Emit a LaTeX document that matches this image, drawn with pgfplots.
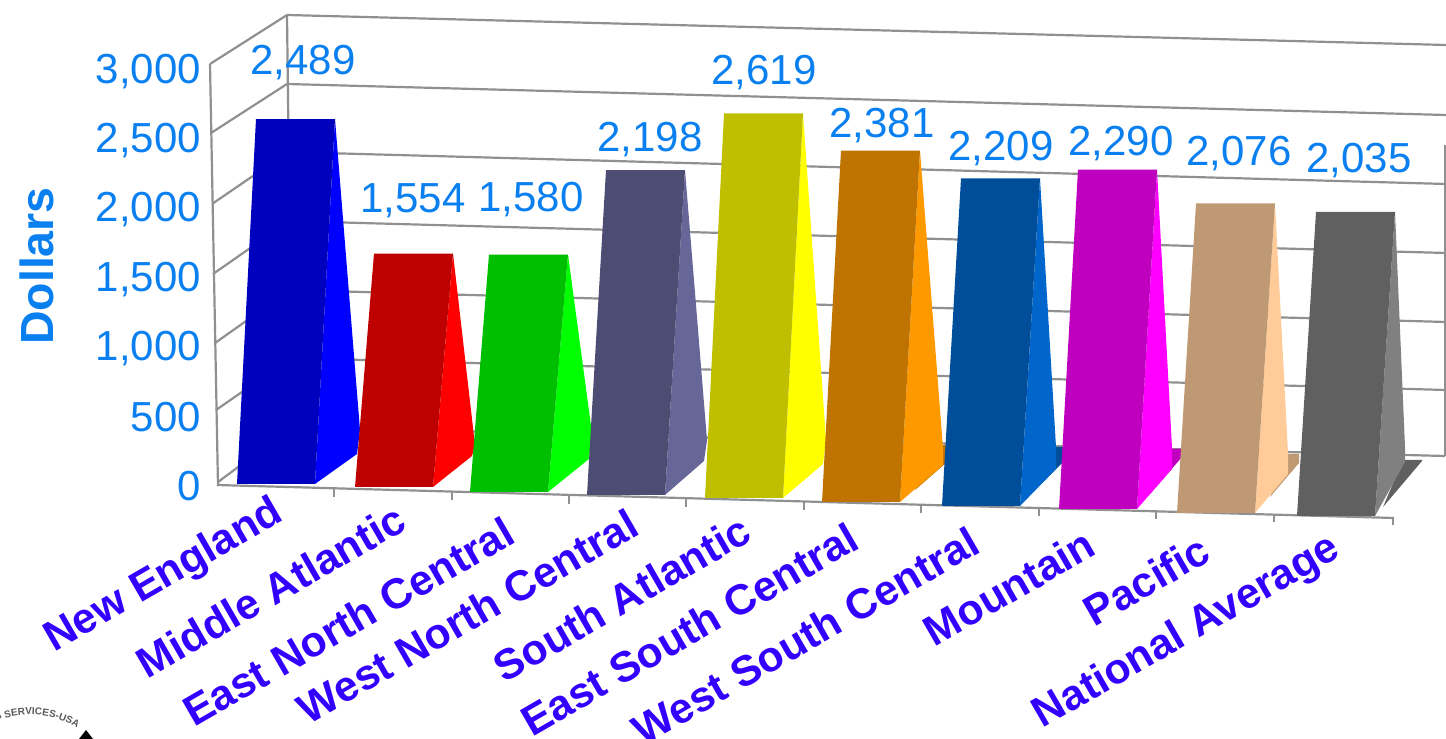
\documentclass[border=0pt]{standalone}
\usepackage{pgfplots}
\pgfplotsset{compat=1.18}
\usepackage{fontspec}
\setmainfont{Liberation Sans}
\usetikzlibrary{decorations.text}

% Front and side shades of the ten columns
\definecolor{barf1}{HTML}{0000BF}\definecolor{bars1}{HTML}{0000FF}
\definecolor{barf2}{HTML}{BF0000}\definecolor{bars2}{HTML}{FF0000}
\definecolor{barf3}{HTML}{00BF00}\definecolor{bars3}{HTML}{00FF00}
\definecolor{barf4}{HTML}{4D4D73}\definecolor{bars4}{HTML}{666699}
\definecolor{barf5}{HTML}{BFBF00}\definecolor{bars5}{HTML}{FFFF00}
\definecolor{barf6}{HTML}{BF7300}\definecolor{bars6}{HTML}{FF9900}
\definecolor{barf7}{HTML}{004D99}\definecolor{bars7}{HTML}{0066CC}
\definecolor{barf8}{HTML}{BF00BF}\definecolor{bars8}{HTML}{FF00FF}
\definecolor{barf9}{HTML}{BF9973}\definecolor{bars9}{HTML}{FFCC99}
\definecolor{barf10}{HTML}{606060}\definecolor{bars10}{HTML}{808080}
\definecolor{wallgray}{HTML}{909090}
\definecolor{valblue}{HTML}{0A80F0}
\definecolor{catblue}{HTML}{3300FF}

% The plot area is laid out in points measured from the top; the value axis
% has 0 at 485 and loses 0.1383 pt for each dollar.
\newcommand{\toY}[2]{\pgfmathsetmacro#1{(485-(#2))/0.1383}}

% One wall or floor segment
\newcommand{\seg}[4]{%
  \toY\ya{#2}\toY\yb{#4}%
  \edef\temp{\noexpand\addplot[wallgray,line width=2.2pt,no marks] coordinates {(#1,\ya)(#3,\yb)};}\temp}

% Column: index, left foot x, foot y, value, side low point x,y, side outer point x,y
\newcommand{\column}[8]{%
  \pgfmathsetmacro\toppx{#3-(14+0.141*#4+0.35*(#1-1))}%
  \pgfmathsetmacro\xr{#2+78}\pgfmathsetmacro\xtl{#2+19}\pgfmathsetmacro\xtr{#2+98}%
  \toY\yfoot{#3}\toY\ytop{\toppx}\toY\ylow{#6}\toY\yout{#8}%
  \edef\temp{\noexpand\addplot[fill=bars#1,draw=none,no marks] coordinates {(\xr,\yfoot)(#5,\ylow)(#7,\yout)(\xtr,\ytop)} -- cycle;
    \noexpand\addplot[fill=barf#1,draw=none,no marks] coordinates {(#2,\yfoot)(\xr,\yfoot)(\xtr,\ytop)(\xtl,\ytop)} -- cycle;}\temp}

% Dark piece of a column's end face, seen on the floor behind it
\newcommand{\floorpatch}[8]{%
  \toY\ya{#3}\toY\yb{#5}\toY\yc{#7}%
  \edef\temp{\noexpand\addplot[fill=barf#1,draw=none,no marks] coordinates {(#2,\ya)(#4,\ya)(#4,\yb)(#6,\yc)(#8,\yc)} -- cycle;}\temp}

% Value printed above a column
\newcommand{\val}[3]{%
  \toY\yy{#2}%
  \edef\temp{\noexpand\node[text=valblue,font=\noexpand\fontsize{42}{46}\noexpand\selectfont,anchor=center,inner sep=0pt,yshift=-3pt] at (axis cs:#1,\yy) {#3};}\temp}

% Slanted category name ending at the given point
\newcommand{\cat}[3]{%
  \toY\yy{#2}%
  \edef\temp{\noexpand\node[text=catblue,font=\noexpand\fontsize{42.5}{46}\noexpand\selectfont\noexpand\bfseries,rotate=30,anchor=east,inner sep=0pt] at (axis cs:#1,\yy) {#3};}\temp}

\begin{document}
\begin{tikzpicture}[x=1pt,y=1pt]
\path[use as bounding box] (0,0) rectangle (1446,739);
\begin{axis}[
  at={(0pt,0pt)},anchor=south west,
  scale only axis,width=1446pt,height=739pt,
  xmin=0,xmax=1446,
  ymin=-1836.6,ymax=3506.9,
  axis x line=none,
  axis y line*=left,
  axis line style={draw=none},
  tick style={draw=none},
  major tick length=0pt,
  ytick={0,500,1000,1500,2000,2500,3000},
  /pgf/number format/assume math mode=true,
  /pgf/number format/1000 sep={,},
  yticklabel style={text=valblue,font=\fontsize{42}{46}\selectfont,anchor=east,inner sep=0pt,xshift=201pt,yshift=-1.5pt},
  ylabel={Dollars},
  every axis y label/.style={at={(axis description cs:0.0256,0.64)},rotate=90,anchor=center,
    text=valblue,font=\fontsize{46.5}{50}\selectfont\bfseries},
  clip=true,
]
% back wall
\seg{287}{15}{1446}{45}
\seg{287}{84}{1446}{115}
\seg{288}{152}{1446}{184}
\seg{289}{221}{1446}{253}
\seg{290}{290}{1446}{322}
\seg{291}{358}{1446}{390}
\seg{292}{427}{1445}{456}
\seg{287}{15}{292}{427}
\seg{1445}{145}{1445}{456}
% left wall
\seg{210}{64}{287}{15}
\seg{211}{133}{287}{84}
\seg{212}{204}{288}{152}
\seg{213}{274}{289}{221}
\seg{215}{343}{290}{290}
\seg{216}{410}{291}{358}
\seg{218}{482}{292}{427}
\seg{210}{64}{218}{486}
% floor front edge and its ticks
\seg{217}{485}{1394}{518}
\seg{334}{488}{334}{497}
\seg{452}{491}{452}{500}
\seg{569}{495}{569}{504}
\seg{686}{498}{686}{507}
\seg{804}{502}{804}{510}
\seg{921}{505}{921}{513}
\seg{1039}{508}{1039}{516}
\seg{1156}{511}{1156}{519}
\seg{1274}{514}{1274}{522}
\seg{1393}{518}{1393}{525}
% columns, left to right so that each hides the side of the one before it
\column{1}{237}{484}{2489}{357}{454}{360}{430}
\column{2}{355}{487}{1554}{472}{456}{475}{445}
\column{3}{470}{492}{1580}{589}{459}{592}{433}
\column{4}{587}{495}{2198}{704}{461}{707}{440}
\column{5}{705}{498}{2619}{823}{464}{826}{440}
\floorpatch{6}{938}{445}{946}{463}{915}{490}{915}
\column{6}{822}{502}{2381}{943}{465}{943}{448}
\floorpatch{7}{1054}{447}{1063}{462}{1030}{495}{1030}
\column{7}{942}{506}{2209}{1056}{469}{1056}{447}
\floorpatch{8}{1170}{449}{1182}{457}{1150}{494}{1150}
\column{8}{1059}{509}{2290}{1172}{469}{1172}{448}
\floorpatch{9}{1286}{454}{1299}{463}{1270}{497}{1270}
\column{9}{1177}{513}{2076}{1288}{474}{1288}{453}
\floorpatch{10}{1403}{460}{1422}{461}{1383}{507}{1383}
\column{10}{1297}{516}{2035}{1405}{462}{1405}{447}
% values above the columns
\val{303}{60}{2,489}
\val{413}{198}{1,554}
\val{531}{197}{1,580}
\val{650}{137}{2,198}
\val{764}{70}{2,619}
\val{882}{123}{2,381}
\val{1001}{146}{2,209}
\val{1121}{141}{2,290}
\val{1239}{151}{2,076}
\val{1359}{158}{2,035}
% category names
\cat{280}{510}{New England}
\cat{402}{515}{Middle Atlantic}
\cat{510}{528}{East North Central}
\cat{634}{520}{West North Central}
\cat{747}{526}{South Atlantic}
\cat{854}{534}{East South Central}
\cat{975}{538}{West South Central}
\cat{1091}{540}{Mountain}
\cat{1206}{546}{Pacific}
\cat{1337}{546}{National Average}
\end{axis}
% seal at the lower left corner
\path[postaction={decorate,decoration={text along path,text align=left,
  text={|\fontsize{10}{10}\selectfont\bfseries\color{black!65}|S SERVICES-USA}}}]
  (-4,739-721) .. controls (30,739-709) and (60,739-715) .. (85,739-733);
\fill[black] (79,0) -- (86,739-730) -- (93,0) -- cycle;
\end{tikzpicture}
\end{document}
